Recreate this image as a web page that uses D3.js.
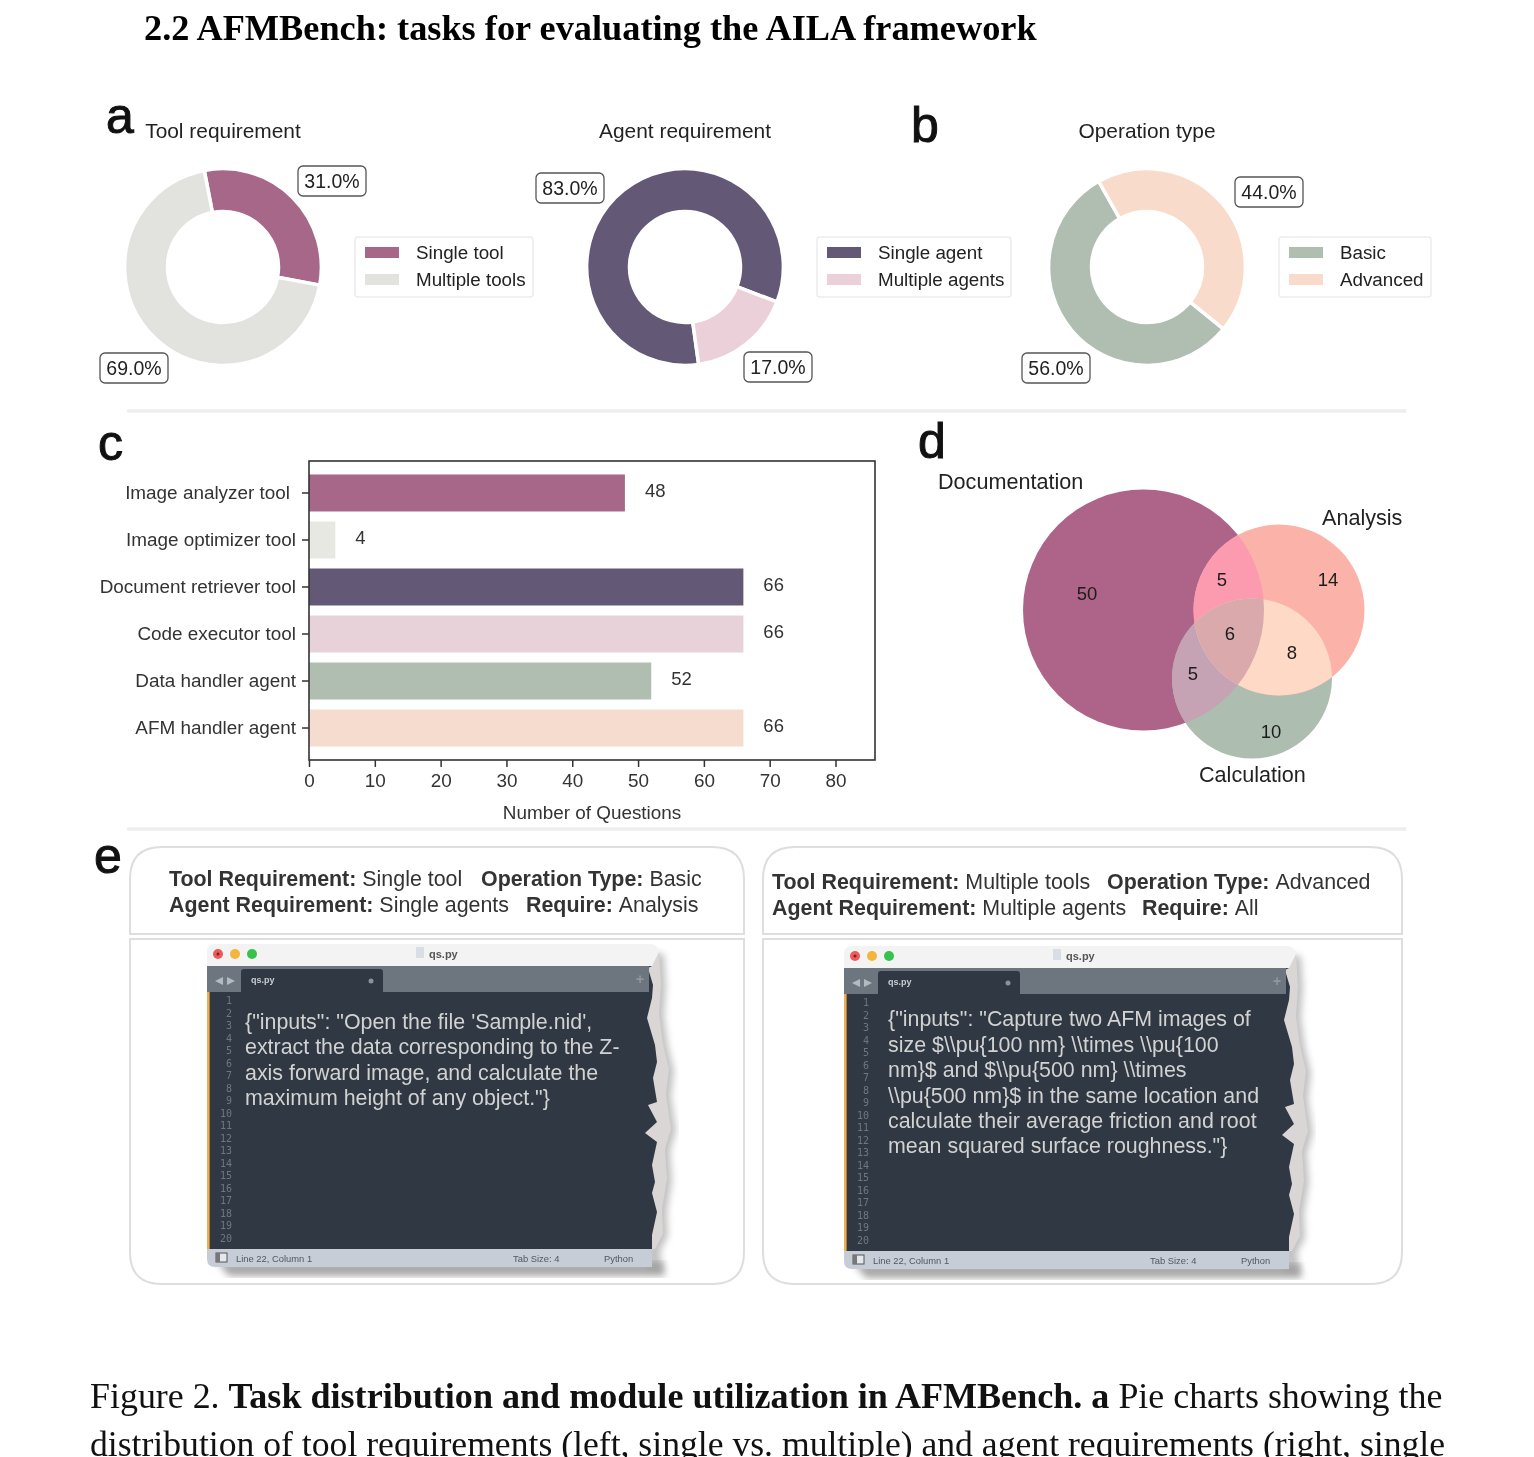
<!DOCTYPE html>
<html><head><meta charset="utf-8">
<script src="https://cdn.jsdelivr.net/npm/d3@7/dist/d3.min.js"></script>
<style>html,body{margin:0;padding:0;background:#fff;overflow:hidden}svg{display:block;filter:blur(0.35px)}text{font-family:"Liberation Sans",Arial,sans-serif}</style>
</head><body><svg id="c" width="1534" height="1457" viewBox="0 0 1534 1457"></svg>
<script>
// ---------- data ----------
const toolNames=["Single tool","Multiple tools"], toolValues=[31,69], toolColors=["#A66788","#E2E3DE"];
const agentNames=["Single agent","Multiple agents"], agentValues=[83,17], agentColors=["#635977","#EBD0D9"];
const opNames=["Basic","Advanced"], opValues=[56,44], opColors=["#AFBEB1","#F9DBCB"];
const barNames=["Image analyzer tool","Image optimizer tool","Document retriever tool","Code executor tool","Data handler agent","AFM handler agent"];
const barValues=[48,4,66,66,52,66];
const barColors=["#A66788","#E8E8E3","#635977","#E8D2DA","#AFBEB1","#F5DCCF"];
const xTicks=[0,10,20,30,40,50,60,70,80];
const vennLabels=[50,14,10,5,5,8,6];
const codeLeft=["{\"inputs\": \"Open the file 'Sample.nid',","extract the data corresponding to the Z-","axis forward image, and calculate the","maximum height of any object.\"}"];
const codeRight=["{\"inputs\": \"Capture two AFM images of","size $\\\\pu{100 nm} \\\\times \\\\pu{100","nm}$ and $\\\\pu{500 nm} \\\\times","\\\\pu{500 nm}$ in the same location and","calculate their average friction and root","mean squared surface roughness.\"}"];
// torn right edge of the editor screenshot: [y, x] in window px
const tornDark=[[22,445],[24,441],[41,446],[54,445],[74,440],[101,448],[118,450],[134,446],[158,450],[161,441],[178,450],[189,438],[198,450],[221,445],[238,448],[249,445],[268,450],[291,445],[305,445]];
const tornPaper=[[8,452],[40,454],[70,452],[100,456],[125,462],[150,459],[185,464],[205,458],[235,460],[265,455],[290,456],[305,448]];

const svg=d3.select("#c");
const sans='"Liberation Sans",Arial,sans-serif', serif='"Liberation Serif",serif';
function txt(x,y,s,size,o={}){return svg.append("text").attr("x",x).attr("y",y).attr("font-size",size)
 .attr("fill",o.fill||"#222").attr("text-anchor",o.anchor||"start").attr("font-weight",o.weight||"normal")
 .style("font-family",o.family||sans).style("letter-spacing",o.ls||null).text(s);}

// heading
txt(144,40,"2.2 AFMBench: tasks for evaluating the AILA framework",36.3,{family:serif,weight:"bold",fill:"#000"});
// panel letters
[["a",106,133],["b",911,142],["c",98,460],["d",918,458],["e",94,873]].forEach(d=>txt(d[1],d[2],d[0],50,{fill:"#111"}).attr("stroke","#111").attr("stroke-width",1));
// separators
[411,829].forEach(y=>svg.append("line").attr("x1",127).attr("x2",1406).attr("y1",y).attr("y2",y).attr("stroke","#EEEEEE").attr("stroke-width",3.5));

// ---------- donuts ----------
function donut(cx,title,names,values,colors,startDeg,labels,lg){
 const cy=267;
 txt(cx,138,title,20.9,{anchor:"middle"});
 const pie=d3.pie().sort(null).startAngle(startDeg*Math.PI/180).endAngle((startDeg+360)*Math.PI/180)(values);
 const arc=d3.arc().innerRadius(55.5).outerRadius(98.4);
 svg.append("g").attr("transform",`translate(${cx},${cy})`).selectAll("path").data(pie).join("path")
  .attr("d",arc).attr("fill",(d,i)=>colors[i]).attr("stroke","#fff").attr("stroke-width",3.5);
 labels.forEach((l,i)=>{
  svg.append("rect").attr("x",l[0]-34).attr("y",l[1]-15).attr("width",68).attr("height",30).attr("rx",5)
   .attr("fill","#fff").attr("stroke","#555").attr("stroke-width",1.3);
  txt(l[0],l[1]+7,values[i].toFixed(1)+"%",19.5,{anchor:"middle"});
 });
 svg.append("rect").attr("x",lg[0]).attr("y",237).attr("width",lg[1]).attr("height",60).attr("rx",3)
  .attr("fill","#fff").attr("stroke","#EDEDED").attr("stroke-width",1.6);
 names.forEach((n,i)=>{
  svg.append("rect").attr("x",lg[0]+10).attr("y",247+27*i).attr("width",34).attr("height",11).attr("fill",colors[i]);
  txt(lg[0]+61,259+27*i,n,18.8);
 });
}
donut(223,"Tool requirement",toolNames,toolValues,toolColors,-11,[[332,181],[134,368]],[355,178]);
donut(685,"Agent requirement",agentNames,agentValues,agentColors,172,[[570,188],[778,367]],[817,194]);
donut(1147,"Operation type",opNames,opValues,opColors,129,[[1056,368],[1269,192]],[1279,152]);

// ---------- bars ----------
const x=d3.scaleLinear().domain([0,86]).range([309,875]);
const y=d3.scaleBand().domain(barNames).range([469.5,751.5]).paddingInner(0.213).paddingOuter(0.106);
svg.append("g").selectAll("rect").data(barNames).join("rect")
 .attr("x",x(0)).attr("y",d=>y(d)).attr("width",(d,i)=>x(barValues[i])-x(0)).attr("height",y.bandwidth())
 .attr("fill",(d,i)=>barColors[i]);
svg.append("rect").attr("x",309).attr("y",461).attr("width",566).attr("height",299).attr("fill","none").attr("stroke","#333").attr("stroke-width",1.6);
const gx=svg.append("g").attr("transform","translate(0,760)").call(d3.axisBottom(x).tickValues(xTicks).tickSize(7).tickPadding(7));
const gy=svg.append("g").attr("transform","translate(309,0)").call(d3.axisLeft(y).tickSize(7).tickPadding(6));
[gx,gy].forEach(g=>{g.select(".domain").remove();g.selectAll("line").attr("stroke","#333").attr("stroke-width",1.5);
 g.selectAll("text").attr("font-size",18.9).attr("fill","#333").style("font-family",sans);});
gy.selectAll("text").filter(d=>d===barNames[0]).attr("x",-19);
svg.append("g").selectAll("text").data(barNames).join("text").attr("x",(d,i)=>x(barValues[i])+20).attr("y",d=>y(d)+y.bandwidth()/2+4)
 .attr("font-size",18.5).attr("fill","#333").text((d,i)=>barValues[i]);
txt(592,819,"Number of Questions",18.9,{anchor:"middle",fill:"#333"});

// ---------- venn ----------
const D={cx:1143.5,cy:610,r:120.5},A={cx:1279,cy:610,r:85.5},C={cx:1252,cy:678.5,r:80};
const defs=svg.append("defs");
[["cD",D],["cA",A],["cC",C]].forEach(([id,k])=>defs.append("clipPath").attr("id",id).append("circle").attr("cx",k.cx).attr("cy",k.cy).attr("r",k.r));
function circ(k,fill,clips=[]){let g=svg;clips.forEach(c=>{g=g.append("g").attr("clip-path",`url(#${c})`)});
 g.append("circle").attr("cx",k.cx).attr("cy",k.cy).attr("r",k.r).attr("fill",fill);}
circ(D,"#AD6488");circ(C,"#ADBEB1");circ(A,"#FBB2A8");
circ(A,"#FC9BAF",["cD"]);circ(C,"#C5A3B5",["cD"]);circ(C,"#FDD9C6",["cA"]);circ(C,"#DAA9AC",["cD","cA"]);
[[1087,600],[1328,586],[1271,738],[1222,586],[1193,680],[1292,659],[1230,640]].forEach((p,i)=>txt(p[0],p[1],vennLabels[i],18.5,{anchor:"middle",fill:"#1c1c1c"}));
txt(938,489,"Documentation",21.6);txt(1322,525,"Analysis",21.6);txt(1199,782,"Calculation",21.6);

// ---------- panel e ----------
const blur=defs.append("filter").attr("id","sh").attr("x","-10%").attr("y","-10%").attr("width","120%").attr("height","120%");
blur.append("feGaussianBlur").attr("stdDeviation",3.5);
function panel(x0,x1,head){
 const y0=847,y1=934,y2=939,y3=1284,r=32;
 const p1=`M${x0},${y1}V${y0+r}Q${x0},${y0} ${x0+r},${y0}H${x1-r}Q${x1},${y0} ${x1},${y0+r}V${y1}Z`;
 const p2=`M${x0},${y2}H${x1}V${y3-r}Q${x1},${y3} ${x1-r},${y3}H${x0+r}Q${x0},${y3} ${x0},${y3-r}Z`;
 [p1,p2].forEach(p=>svg.append("path").attr("d",p).attr("fill","#fff").attr("stroke","#DEDEDE").attr("stroke-width",2));
 head.forEach(h=>{const t=svg.append("text").attr("x",h.x).attr("y",h.y).attr("font-size",21.4).attr("fill","#333").attr("xml:space","preserve");
  h.parts.forEach(q=>t.append("tspan").attr("font-weight",q[1]?"bold":"normal").text(q[0]));});
}
panel(130,744,[
 {x:169,y:886,parts:[["Tool Requirement: ",1],["Single tool",0]]},{x:481,y:886,parts:[["Operation Type: ",1],["Basic",0]]},
 {x:169,y:912,parts:[["Agent Requirement: ",1],["Single agents",0]]},{x:526,y:912,parts:[["Require: ",1],["Analysis",0]]}]);
panel(763,1402,[
 {x:772,y:889,parts:[["Tool Requirement: ",1],["Multiple tools",0]]},{x:1107,y:889,parts:[["Operation Type: ",1],["Advanced",0]]},
 {x:772,y:915,parts:[["Agent Requirement: ",1],["Multiple agents",0]]},{x:1142,y:915,parts:[["Require: ",1],["All",0]]}]);

function editor(ox,oy,lines,tx,ly0){
 const g=svg.append("g").attr("transform",`translate(${ox},${oy})`);
 const edge=arr=>arr.map(d=>`L${d[1]},${d[0]}`).join("");
 // soft shadows
 g.append("path").attr("d","M10,318H456L458,332H22Z").attr("fill","#8C8C8C").attr("opacity",.75).attr("filter","url(#sh)");
 g.append("path").attr("d",`M440,8${edge(tornPaper.map(d=>[d[0]+2,d[1]+5]))}L456,325L440,325Z`).attr("fill","#999").attr("opacity",.6).attr("filter","url(#sh)");
 g.append("path").attr("d",`M430,8${edge(tornPaper)}L430,305Z`).attr("fill","#D9D6D5");
 g.append("path").attr("d","M8,0H444Q450,0 452,8L445,22H0V8Q0,0 8,0Z").attr("fill","#F3F3F3");
 g.append("path").attr("d",`M0,22H441${edge(tornDark)}H0Z`).attr("fill","#2F3843");
 // tab bar
 g.append("rect").attr("x",0).attr("y",22).attr("width",442).attr("height",26).attr("fill","#6D767E");
 g.append("path").attr("d","M34,48V28Q34,25 37,25H173Q176,25 176,28V48Z").attr("fill","#2F3843");
 // status bar
 g.append("path").attr("d","M0,305H445V323H8Q0,323 0,315Z").attr("fill","#C6CDD7");
 g.append("rect").attr("x",0).attr("y",48).attr("width",2.6).attr("height",257).attr("fill","#EFAE4E");
 // traffic lights
 [["#EC5A5A",11],["#F3B53B",28],["#37C24B",45]].forEach(c=>g.append("circle").attr("cx",c[1]).attr("cy",10).attr("r",5).attr("fill",c[0]));
 g.append("circle").attr("cx",11).attr("cy",10).attr("r",1.5).attr("fill","#8B1A1A");
 g.append("rect").attr("x",209).attr("y",3).attr("width",8).attr("height",11).attr("fill","#D8DEE4");
 const t=(x,y,s,fs,fill,o={})=>g.append("text").attr("x",x).attr("y",y).attr("font-size",fs).attr("fill",fill)
   .attr("font-weight",o.w||"normal").attr("text-anchor",o.a||"start").style("font-family",o.f||sans).text(s);
 t(222,14,"qs.py",11,"#555",{w:"bold"});
 t(44,39,"qs.py",9,"#C9CDD2",{w:"bold"});
 g.append("circle").attr("cx",164).attr("cy",37).attr("r",2.5).attr("fill","#8A929A");
 g.append("path").attr("d","M16,33l-8,4l8,4ZM20,33l8,4l-8,4Z").attr("fill","#B4BAC0");
 t(433,40,"+",14,"#8F979F",{a:"middle",w:"bold"});
 d3.range(1,21).forEach(i=>t(25,60+(i-1)*12.52,i,10,"#6F7882",{a:"end",f:'"DejaVu Sans Mono",monospace'}));
 g.append("rect").attr("x",9).attr("y",309).attr("width",11).attr("height",9).attr("fill","#E4E7EB").attr("stroke","#555").attr("stroke-width",1);
 g.append("rect").attr("x",9).attr("y",309).attr("width",4).attr("height",9).attr("fill","#777");
 t(29,318,"Line 22, Column 1",9.4,"#4F5862");t(306,318,"Tab Size: 4",9.4,"#4F5862");t(397,318,"Python",9.4,"#4F5862");
 lines.forEach((s,i)=>t(tx,ly0+i*25.4,s,21.4,"#D2D2D2"));
}
editor(207,944,codeLeft,38,84.8);
editor(844,946,codeRight,44,80.3);

// ---------- caption ----------
const cap=svg.append("text").attr("x",90).attr("y",1408).attr("fill","#111").style("font-family",serif).attr("xml:space","preserve");
cap.append("tspan").attr("font-size",35.9).text("Figure 2. ");
cap.append("tspan").attr("font-size",36.1).attr("font-weight","bold").text("Task distribution and module utilization in AFMBench. a ");
cap.append("tspan").attr("font-size",35.9).text("Pie charts showing the");
txt(90,1456,"distribution of tool requirements (left, single vs. multiple) and agent requirements (right, single",35.65,{family:serif,fill:"#111"});
</script></body></html>
